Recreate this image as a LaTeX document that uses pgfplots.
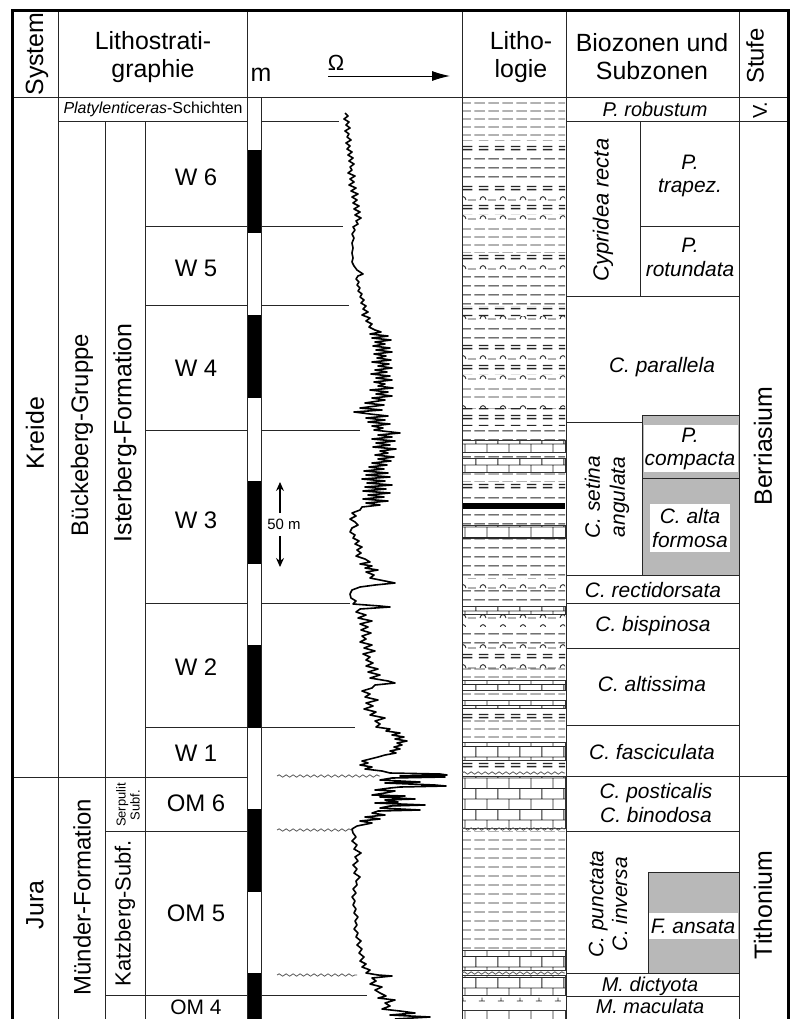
\documentclass[border=0pt]{standalone}
\usepackage{pgfplots}
\pgfplotsset{compat=1.18}
\usepackage{fontspec}
\setmainfont{Liberation Sans}
\usetikzlibrary{patterns,decorations.pathmorphing,arrows.meta}

% lithology patterns
\pgfdeclarepatternformonly{shale}{\pgfqpoint{0pt}{0pt}}{\pgfqpoint{14pt}{8.5pt}}{\pgfqpoint{14pt}{8.5pt}}{%
  \pgfsetlinewidth{1pt}%
  \pgfpathmoveto{\pgfqpoint{0.5pt}{4.25pt}}\pgfpathlineto{\pgfqpoint{11pt}{4.25pt}}\pgfusepath{stroke}}
\pgfdeclarepatternformonly{marl}{\pgfqpoint{0pt}{0pt}}{\pgfqpoint{16pt}{10pt}}{\pgfqpoint{16pt}{10pt}}{%
  \pgfsetlinewidth{1.3pt}%
  \pgfpathmoveto{\pgfqpoint{1pt}{3.4pt}}\pgfpathlineto{\pgfqpoint{10.5pt}{3.4pt}}%
  \pgfpathmoveto{\pgfqpoint{1pt}{6.6pt}}\pgfpathlineto{\pgfqpoint{10.5pt}{6.6pt}}\pgfusepath{stroke}}
\pgfdeclarepatternformonly{arcs}{\pgfqpoint{0pt}{0pt}}{\pgfqpoint{20pt}{10pt}}{\pgfqpoint{20pt}{10pt}}{%
  \pgfsetlinewidth{0.9pt}%
  \pgfpathmoveto{\pgfqpoint{2pt}{3pt}}\pgfpathcurveto{\pgfqpoint{2.5pt}{7.5pt}}{\pgfqpoint{7.5pt}{7.5pt}}{\pgfqpoint{8pt}{3pt}}%
  \pgfpathmoveto{\pgfqpoint{10pt}{3pt}}\pgfpathlineto{\pgfqpoint{18pt}{3pt}}\pgfusepath{stroke}}
\pgfdeclarepatternformonly{limestone}{\pgfqpoint{0pt}{0pt}}{\pgfqpoint{22pt}{21pt}}{\pgfqpoint{22pt}{21pt}}{%
  \pgfsetlinewidth{0.9pt}%
  \pgfpathmoveto{\pgfqpoint{0pt}{0.5pt}}\pgfpathlineto{\pgfqpoint{22pt}{0.5pt}}%
  \pgfpathmoveto{\pgfqpoint{0pt}{11pt}}\pgfpathlineto{\pgfqpoint{22pt}{11pt}}%
  \pgfpathmoveto{\pgfqpoint{5pt}{0.5pt}}\pgfpathlineto{\pgfqpoint{5pt}{11pt}}%
  \pgfpathmoveto{\pgfqpoint{16pt}{11pt}}\pgfpathlineto{\pgfqpoint{16pt}{21pt}}\pgfusepath{stroke}}
\pgfdeclarepatternformonly{dolo}{\pgfqpoint{0pt}{0pt}}{\pgfqpoint{19pt}{14pt}}{\pgfqpoint{19pt}{14pt}}{%
  \pgfsetlinewidth{0.9pt}%
  \pgfpathmoveto{\pgfqpoint{6pt}{5pt}}\pgfpathlineto{\pgfqpoint{12pt}{5pt}}%
  \pgfpathmoveto{\pgfqpoint{9pt}{5pt}}\pgfpathlineto{\pgfqpoint{9pt}{8.5pt}}\pgfusepath{stroke}}

\tikzset{lin/.style={draw=black!85,line width=1bp}}
\newcommand\fs[2]{\fontsize{#1}{#2}\selectfont}
% x1 x2 y
\newcommand\hl[3]{\addplot[lin] coordinates {(#1,#3)(#2,#3)};}
% x y1 y2
\newcommand\vl[3]{\addplot[lin] coordinates {(#1,#2)(#1,#3)};}
\newcommand\wl[3]{\addplot[black!65,line width=0.8bp,decorate,decoration={snake,amplitude=1.2pt,segment length=7pt}] coordinates {(#1,#3)(#2,#3)};}
\newcommand\lith[3]{\addplot[draw=none,pattern=#3,pattern color=black!85] coordinates {(462,#1)(565,#1)(565,#2)(462,#2)} -- cycle;}
\newcommand\lithb[2]{\addplot[draw=black!80,line width=0.8bp,pattern=limestone,pattern color=black!85] coordinates {(462,#1)(565,#1)(565,#2)(462,#2)} -- cycle;}
\newcommand\blk[2]{\addplot[fill=black,draw=none] coordinates {(247.5,#1)(261,#1)(261,#2)(247.5,#2)} -- cycle;}

\begin{document}
\begin{tikzpicture}
\begin{axis}[
  width=794bp, height=1019bp, scale only axis,
  xmin=0, xmax=794, ymin=0, ymax=1019, y dir=reverse,
  hide axis,
]
\addplot[fill=white,draw=none] coordinates {(0,0)(794,0)(794,1019)(0,1019)} -- cycle;

% ---- lithology column
\lith{100}{140}{shale}
\lith{140}{152}{marl}
\lith{152}{182}{shale}
\lith{182}{194}{marl}
\lith{194}{204}{arcs}
\lith{204}{214}{marl}
\lith{214}{224}{arcs}
\lith{224}{252}{shale}
\lith{252}{263}{marl}
\lith{263}{273}{arcs}
\lith{273}{306}{shale}
\lith{306}{316}{marl}
\lith{316}{324}{arcs}
\lith{324}{340}{shale}
\lith{340}{350}{marl}
\lith{350}{362}{arcs}
\lith{362}{374}{marl}
\lith{374}{384}{arcs}
\lith{384}{400}{shale}
\lith{400}{408}{arcs}
\lith{408}{425}{marl}
\lith{425}{440}{shale}
\lithb{440}{452}
\lith{452}{458}{shale}
\lithb{458}{472}
\lith{472}{481}{shale}
\lith{481}{492}{marl}
\lith{492}{503}{shale}
\addplot[fill=black,draw=none] coordinates {(462,503)(565,503)(565,509)(462,509)} -- cycle;
\lith{509}{525}{shale}
\lithb{525}{538}
\lith{538}{578}{shale}
\lith{578}{588}{arcs}
\lith{588}{606}{shale}
\lithb{606}{614}
\lith{614}{626}{arcs}
\lith{626}{644}{shale}
\lith{644}{652}{arcs}
\lith{652}{660}{marl}
\lith{660}{668}{arcs}
\lith{668}{680}{shale}
\lithb{680}{690}
\lith{690}{700}{shale}
\lithb{700}{708}
\lith{708}{718}{marl}
\lith{718}{742}{shale}
\lithb{742}{760}
\lith{760}{770}{marl}
\lithb{776}{828}
\lith{831}{950}{shale}
\lithb{950}{970}
\lithb{975}{995}
\lith{995}{1010}{dolo}
\lithb{1010}{1019}

% ---- grey zones
\addplot[lin,fill=black!28] coordinates {(642,415)(739,415)(739,575)(642,575)} -- cycle;
\addplot[fill=white,draw=none] coordinates {(643.5,425)(737.5,425)(737.5,472)(643.5,472)} -- cycle;
\addplot[fill=white,draw=none] coordinates {(650,504)(730,504)(730,552)(650,552)} -- cycle;
\addplot[lin,fill=black!28] coordinates {(648,872)(739,872)(739,973)(648,973)} -- cycle;
\addplot[fill=white,draw=none] coordinates {(649,913)(738,913)(738,939)(649,939)} -- cycle;

% ---- metre bar
\blk{150}{233}
\blk{315}{398}
\blk{481}{564}
\blk{645}{728}
\blk{809}{892}
\blk{973}{1019}

% ---- frame lines
\hl{12}{788}{97}
\vl{58}{10}{1019}
\vl{247}{10}{1019}
\vl{261}{97}{1019}
\vl{462}{10}{1019}
\vl{566}{10}{1019}
\vl{739}{10}{1019}
\vl{105}{121}{1019}
\vl{145}{121}{1019}
\vl{640}{121}{296}
\hl{58}{247}{121}
\hl{261}{339}{121}
\hl{566}{788}{121}
\hl{145}{247}{226}
\hl{261}{343}{226}
\hl{145}{247}{305}
\hl{261}{349}{305}
\hl{145}{247}{430}
\hl{261}{360}{430}
\hl{145}{247}{603}
\hl{261}{350}{603}
\hl{145}{247}{727}
\hl{261}{355}{727}
\hl{12}{247}{777}
\hl{105}{247}{831}
\hl{105}{247}{995}
\hl{261}{367}{995}
\hl{640}{739}{226}
\hl{566}{739}{296}
\hl{566}{642}{422}
\hl{642}{739}{478}
\hl{566}{739}{575}
\hl{566}{739}{603}
\hl{566}{739}{648}
\hl{566}{739}{725}
\hl{566}{788}{776}
\hl{566}{739}{831}
\hl{566}{739}{973}
\hl{566}{739}{996}
\wl{277}{380}{776}
\wl{277}{352}{830}
\wl{277}{357}{975}
\wl{462}{565}{773}
\wl{462}{565}{829}
\wl{462}{565}{973}
\addplot[black,line width=3bp] coordinates {(12,1019)(12,10)(788,10)(788,1019)};

% ---- resistivity log
\addplot[black,line width=1.6bp,line join=round] coordinates {
(345,113)(348,116)(344,119)(349,122)(346,125)(350,128)(345,131)(349,134)(347,137)(351,140)
(346,143)(350,146)(347,149)(352,152)(348,155)(353,158)(349,161)(354,164)(350,167)(352,170)
(348,173)(355,176)(350,179)(354,182)(349,185)(356,188)(351,191)(358,194)(352,197)(357,200)
(353,203)(359,206)(354,209)(360,212)(355,215)(361,218)(356,221)(358,224)(353,227)
(355,230)(352,234)(354,238)(352,243)(353,248)(352,253)(353,258)(352,262)(354,266)(357,270)
(360,272)(363,274)(358,276)(356,279)(359,282)(357,285)(360,288)(358,291)(362,294)(360,297)
(364,300)(361,303)(366,306)
(363,309)(368,312)(362,315)(370,318)(366,321)(372,324)(369,327)(375,330)
(381,332)(370,334)(388,336)(372,338)(391,340)(375,342)(385,344)(373,346)(390,348)(376,350)
(392,352)(374,354)(386,356)(377,358)(391,360)(372,362)(389,364)(378,366)(392,368)(375,370)
(387,372)(371,374)(390,376)(376,378)(392,380)(374,382)(385,384)(378,386)(393,388)(370,390)
(388,392)(376,394)(392,396)(372,398)
(385,400)(365,403)(384,405)(360,408)(382,410)(354,412)(370,414)
(388,416)(366,418)(385,420)(368,422)(390,424)(372,426)(383,428)(374,430)(400,433)(378,435)
(392,437)(372,439)(395,441)(376,443)(390,445)(373,447)(396,449)(380,451)(388,453)(375,455)
(394,457)(378,459)(391,461)(372,463)(387,465)(369,467)
(384,469)(364,471)(388,473)(366,475)(390,477)(362,479)(385,481)(367,483)(392,485)(365,487)
(386,489)(363,491)(390,493)(368,495)(384,497)(363,499)(388,501)(366,503)(380,505)(362,507)
(360,510)(352,513)(356,516)(350,519)(355,522)(358,525)(352,528)(350,532)(355,535)(353,538)
(359,541)(355,544)(362,547)(357,550)(361,553)(356,556)(365,559)
(370,562)(360,564)(372,566)(365,568)(378,570)(366,572)(374,575)(370,578)(385,581)(395,583)
(375,585)(360,587)(352,590)(350,594)(351,598)
(356,601)(353,604)(380,606)(390,607)(360,609)(356,612)(366,615)(358,618)(372,621)(360,624)
(368,627)(361,630)(371,633)(362,636)(366,639)(360,642)(372,645)(364,648)(375,651)(363,654)
(370,657)(366,660)(373,663)(366,666)(378,669)(368,672)(380,675)(370,678)(388,681)(395,683)
(375,685)(372,688)(362,691)(370,694)(365,697)(378,700)(366,703)(373,706)(364,709)(376,712)
(370,715)(385,718)(375,721)(380,724)(376,727)
(390,729)(386,731)(400,733)(392,735)(404,737)(395,739)(407,741)(397,743)(402,745)(394,747)
(400,749)(390,751)(396,753)(385,755)(378,757)
(370,759)(362,761)(368,763)(360,765)(372,767)(365,769)(382,771)
(390,773)(440,774)(447,775)(400,776)(445,777)(392,778)(380,780)(420,782)(385,783)(435,785)
(446,786)(400,787)(390,788)(375,790)(395,791)(385,793)
(372,795)(405,796)(380,797)(415,799)(385,800)(398,802)(375,803)(425,805)(390,806)(380,808)
(420,810)(378,811)(372,813)
(385,815)(365,817)(380,819)(360,821)(372,823)(357,826)(352,829)
(353,833)(356,837)(352,841)(357,845)(354,849)(361,853)(355,857)(358,861)(353,865)(357,869)
(354,873)(360,877)(356,881)(357,885)(353,889)(356,893)(352,897)(355,901)(353,905)(356,909)
(354,913)(358,917)(355,921)(357,925)(354,929)(358,933)(356,937)(361,941)(357,945)(362,949)
(359,953)(364,957)(360,961)
(366,964)(362,967)(370,970)(366,973)(378,975)(392,976)(372,978)(376,981)(370,984)(382,987)
(375,990)(380,993)
(386,996)(378,998)(395,1000)(385,1003)(390,1006)(382,1009)(400,1011)(415,1013)(390,1015)
(430,1017)(395,1019)
};

% ---- arrows
\addplot[black,line width=1bp,-{Latex[length=18pt,width=10pt]}] coordinates {(328,76)(450,76)};
\addplot[black,line width=1.2bp,-{Stealth[length=9pt,width=8pt]}] coordinates {(280,513)(280,482)};
\addplot[black,line width=1.2bp,-{Stealth[length=9pt,width=8pt]}] coordinates {(280,536)(280,567)};

% ---- header
\node[rotate=90,inner sep=0,font=\fs{25}{28}] at (axis cs:37,54) {System};
\node[align=center,inner sep=0,font=\fs{25}{28}] at (axis cs:153,57) {Lithostrati-\\graphie};
\node[inner sep=0,font=\fs{25}{28}] at (axis cs:261,75) {m};
\node[inner sep=0,font=\fs{22}{24}] at (axis cs:336,63) {Ω};
\node[align=center,inner sep=0,font=\fs{25}{28}] at (axis cs:521,57) {Litho-\\logie};
\node[align=center,inner sep=0,font=\fs{25}{28}] at (axis cs:652,57) {Biozonen und\\Subzonen};
\node[rotate=90,inner sep=0,font=\fs{24}{28}] at (axis cs:755,56) {Stufe};

% ---- lithostratigraphy
\node[inner sep=0,font=\fs{16}{18}] at (axis cs:153,109) {\textit{Platylenticeras}-Schichten};
\node[rotate=90,inner sep=0,font=\fs{25}{28}] at (axis cs:35,433) {Kreide};
\node[rotate=90,inner sep=0,font=\fs{24}{28}] at (axis cs:82,435) {Bückeberg-Gruppe};
\node[rotate=90,inner sep=0,font=\fs{25}{28}] at (axis cs:125,433) {Isterberg-Formation};
\node[rotate=90,inner sep=0,font=\fs{25}{28}] at (axis cs:35,905) {Jura};
\node[rotate=90,inner sep=0,font=\fs{24}{28}] at (axis cs:82,897) {Münder-Formation};
\node[rotate=90,inner sep=0,font=\fs{22}{26}] at (axis cs:125,913) {Katzberg-Subf.};
\node[rotate=90,align=center,inner sep=0,font=\fs{13}{14}] at (axis cs:128,805) {Serpulit\\Subf.};
\node[inner sep=0,font=\fs{24}{28}] at (axis cs:196,177) {W 6};
\node[inner sep=0,font=\fs{24}{28}] at (axis cs:196,268) {W 5};
\node[inner sep=0,font=\fs{24}{28}] at (axis cs:196,368) {W 4};
\node[inner sep=0,font=\fs{24}{28}] at (axis cs:196,520) {W 3};
\node[inner sep=0,font=\fs{24}{28}] at (axis cs:196,667) {W 2};
\node[inner sep=0,font=\fs{24}{28}] at (axis cs:196,753) {W 1};
\node[inner sep=0,font=\fs{24}{28}] at (axis cs:196,803) {OM 6};
\node[inner sep=0,font=\fs{24}{28}] at (axis cs:196,913) {OM 5};
\node[inner sep=0,font=\fs{21}{24}] at (axis cs:196,1007) {OM 4};
\node[inner sep=0,font=\fs{15}{18}] at (axis cs:284,524) {50 m};

% ---- biozones
\node[inner sep=0,font=\fs{20}{24}\itshape] at (axis cs:655,109) {P. robustum};
\node[rotate=90,inner sep=0,font=\fs{22}{24}\itshape] at (axis cs:603,210) {Cypridea recta};
\node[align=center,inner sep=0,font=\fs{21}{24}\itshape] at (axis cs:690,176) {P.\\trapez.};
\node[align=center,inner sep=0,font=\fs{21}{24}\itshape] at (axis cs:690,257) {P.\\rotundata};
\node[inner sep=0,font=\fs{21}{24}\itshape] at (axis cs:662,367) {C. parallela};
\node[rotate=90,align=center,inner sep=0,font=\fs{21}{25}\itshape] at (axis cs:607,497) {C. setina\\angulata};
\node[align=center,inner sep=0,font=\fs{21}{24}\itshape] at (axis cs:690,449) {P.\\compacta};
\node[align=center,inner sep=0,font=\fs{21}{24}\itshape] at (axis cs:690,528) {C. alta\\formosa};
\node[inner sep=0,font=\fs{21}{24}\itshape] at (axis cs:653,590) {C. rectidorsata};
\node[inner sep=0,font=\fs{21}{24}\itshape] at (axis cs:653,626) {C. bispinosa};
\node[inner sep=0,font=\fs{21}{24}\itshape] at (axis cs:652,684) {C. altissima};
\node[inner sep=0,font=\fs{21}{24}\itshape] at (axis cs:652,752) {C. fasciculata};
\node[align=center,inner sep=0,font=\fs{21}{25}\itshape] at (axis cs:656,803) {C. posticalis\\C. binodosa};
\node[rotate=90,align=center,inner sep=0,font=\fs{21}{24}\itshape] at (axis cs:608,904) {C. punctata\\C. inversa};
\node[inner sep=0,font=\fs{21}{24}\itshape] at (axis cs:693,926) {F. ansata};
\node[inner sep=0,font=\fs{20}{24}\itshape] at (axis cs:650,986) {M. dictyota};
\node[inner sep=0,font=\fs{20}{24}\itshape] at (axis cs:650,1006) {M. maculata};

% ---- stages
\node[rotate=90,inner sep=0,font=\fs{20}{24}] at (axis cs:760,110) {V.};
\node[rotate=90,inner sep=0,font=\fs{25}{28}] at (axis cs:763,446) {Berriasium};
\node[rotate=90,inner sep=0,font=\fs{25}{28}] at (axis cs:763,905) {Tithonium};
\end{axis}
\end{tikzpicture}
\end{document}
